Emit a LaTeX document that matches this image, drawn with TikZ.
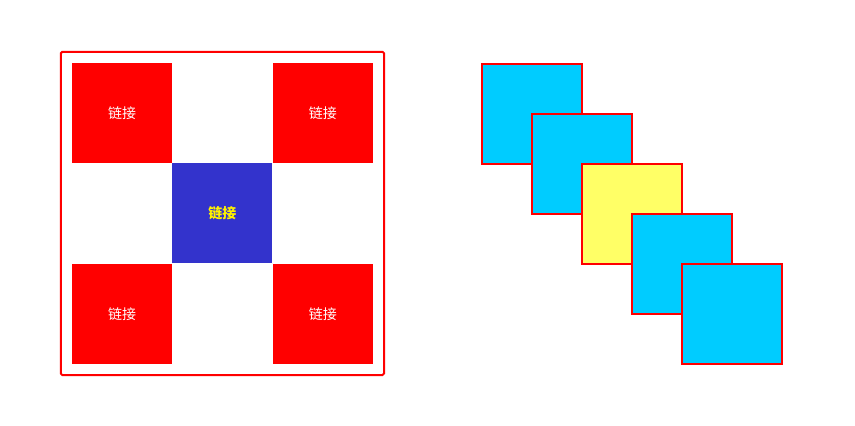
\documentclass[tikz,border=0pt]{standalone}
\usepackage{fontspec}
\newfontfamily\cjk{Noto Sans CJK SC}
\usetikzlibrary{positioning}
\definecolor{linkred}{HTML}{FF0000}
\definecolor{linkblue}{HTML}{3333CC}
\definecolor{skyfill}{HTML}{00CCFF}
\definecolor{lemonfill}{HTML}{FFFF66}

\begin{document}
\begin{tikzpicture}[x=1pt,y=-1pt,node distance=0pt,
		link node/.style={rectangle,fill=linkred,minimum size=100pt,inner sep=0pt,
			text=white,font=\cjk\fontsize{14}{14}\selectfont},
		hover node/.style={link node,fill=linkblue,text=yellow,
			font=\cjk\bfseries\fontsize{14}{14}\selectfont},
		stack node/.style={rectangle,fill=skyfill,draw=linkred,line width=2pt,
			minimum size=100pt,inner sep=0pt}]
	\useasboundingbox (0,0) rectangle (855,426);
	
	% left grid
	\node[link node] (A) at (122,113) {链接};
	\node[hover node] (M) [below right=of A] {链接};
	\node[link node] (B) [above right=of M] {链接};
	\node[link node] (C) [below left=of M] {链接};
	\node[link node] (D) [below right=of M] {链接};
	\draw[linkred,line width=2pt,rounded corners=1.5pt]
		([shift={(-11,-11)}]A.north west) rectangle ([shift={(11,11)}]D.south east);
	
	% right stack
	\node[stack node] (s1) at (531.5,113.5) {};
	\node[stack node] (s2) at ([shift={(50,50)}]s1.center) {};
	\node[stack node,fill=lemonfill] (s3) at ([shift={(50,50)}]s2.center) {};
	\node[stack node] (s4) at ([shift={(50,50)}]s3.center) {};
	\node[stack node] (s5) at ([shift={(50,50)}]s4.center) {};
\end{tikzpicture}
\end{document}
